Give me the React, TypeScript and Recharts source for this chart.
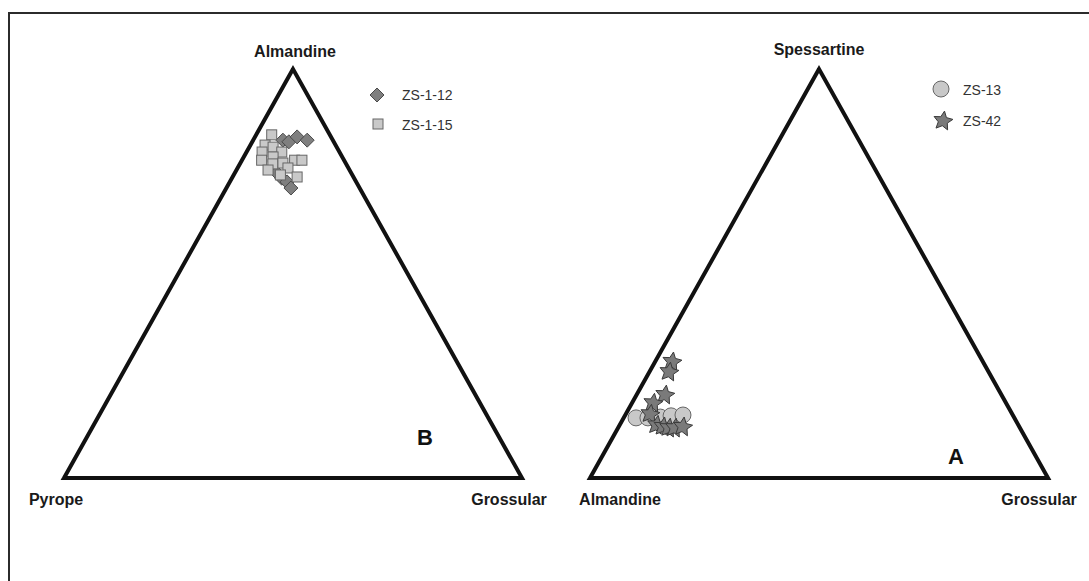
import React from 'react';
import { ScatterChart, Scatter, XAxis, YAxis, ReferenceDot } from 'recharts';

// ternary compositions in %
// panel B: [almandine, pyrope, grossular]
const zs112 = [
  [82.6, 10.9, 6.5], [82.2, 9.8, 8.0], [83.4, 7.4, 9.2], [82.6, 5.6, 11.8],
  [74.6, 16.2, 9.2], [73.3, 15.8, 10.9], [72.4, 15.1, 12.5], [70.9, 15.0, 14.1],
];
const zs115 = [
  [83.9, 12.7, 3.4], [81.4, 15.4, 3.2], [80.9, 13.9, 5.2], [79.7, 12.6, 7.7],
  [79.7, 16.9, 3.4], [77.7, 18.0, 4.3], [78.5, 15.1, 6.4], [76.8, 16.0, 7.2],
  [77.0, 13.7, 9.3], [77.7, 10.8, 11.5], [77.7, 9.2, 13.1], [75.3, 17.8, 6.9],
  [75.8, 13.2, 11.0], [73.6, 12.3, 14.1], [74.1, 15.7, 10.2],
];
// panel A: [spessartine, almandine, grossular]
const zs13 = [
  [14.7, 82.6, 2.7], [14.7, 80.0, 5.3], [14.9, 77.2, 7.9], [15.2, 74.7, 10.1], [15.4, 72.0, 12.6],
];
const zs42 = [
  [28.4, 67.9, 3.7], [25.9, 69.8, 4.3], [20.3, 73.5, 6.2], [18.3, 77.1, 4.6], [15.6, 79.1, 5.3],
  [12.9, 79.0, 8.1], [12.5, 77.8, 9.7], [12.2, 76.7, 11.1], [12.2, 75.4, 12.4], [12.5, 73.5, 14.0],
];

const labelsB = ['Almandine', 'Pyrope', 'Grossular'];
const labelsA = ['Spessartine', 'Almandine', 'Grossular'];

const OFFSET_A = 114.85;
const toXY = (top: number, right: number, offset: number) => ({ x: offset + right + top / 2, y: top });
const pts = (rows: number[][], offset: number) => rows.map((r) => toXY(r[0], r[2], offset));
const outline = (offset: number) =>
  [[100, 0], [0, 0], [0, 100], [100, 0], [0, 0]].map(([t, r]) => toXY(t, r, offset));

const FONT = '"Liberation Sans", Arial, sans-serif';

const Diamond = ({ cx, cy }: any) => (
  <polygon
    points={`${cx},${cy - 7} ${cx + 7},${cy} ${cx},${cy + 7} ${cx - 7},${cy}`}
    fill="#7f7f7f" stroke="#4a4a4a" strokeWidth={1}
  />
);
const Square = ({ cx, cy }: any) => (
  <rect x={cx - 5} y={cy - 5} width={10} height={10} fill="#c9c9c9" stroke="#666" strokeWidth={1} />
);
const Circle = ({ cx, cy }: any) => (
  <circle cx={cx} cy={cy} r={8} fill="#c8c8c8" stroke="#666" strokeWidth={1} />
);
const starPoints = (cx: number, cy: number, ro: number, ri: number) => {
  const p: string[] = [];
  for (let i = 0; i < 10; i++) {
    const a = -Math.PI / 2 + 0.15 + (i * Math.PI) / 5;
    const r = i % 2 === 0 ? ro : ri;
    p.push(`${(cx + r * Math.cos(a)).toFixed(1)},${(cy + r * Math.sin(a)).toFixed(1)}`);
  }
  return p.join(' ');
};
const Star = ({ cx, cy }: any) => (
  <polygon points={starPoints(cx, cy, 10, 4.8)} fill="#7a7a7a" stroke="#3a3a3a" strokeWidth={1} />
);
const None = () => <g />;

const vertexText = (text: string, dx: number, dy: number) => (p: any) => (
  <text x={p.cx + dx} y={p.cy + dy} textAnchor="middle" fontFamily={FONT} fontWeight="bold"
    fontSize={16} fill="#1a1a1a">{text}</text>
);

export default function App() {
  const vB = outline(0);
  const vA = outline(OFFSET_A);
  return (
    <div style={{ position: 'absolute', left: 0, top: 0, width: 1089, height: 581, overflow: 'hidden', background: '#fff' }}>
      <div style={{ position: 'absolute', left: 8, top: 12, width: 1120, height: 620, border: '2px solid #2b2b2b' }} />
      <div style={{ position: 'absolute', left: 0, top: 0 }}>
        <ScatterChart width={1089} height={581} margin={{ top: 69, right: 41, bottom: 103, left: 64 }}>
          <XAxis type="number" dataKey="x" domain={[0, OFFSET_A + 100]} hide />
          <YAxis type="number" dataKey="y" domain={[0, 100]} hide />
          <Scatter data={vB} line={{ stroke: '#111', strokeWidth: 4 }} shape={None} isAnimationActive={false} />
          <Scatter data={vA} line={{ stroke: '#111', strokeWidth: 4 }} shape={None} isAnimationActive={false} />
          <Scatter name="ZS-1-12" data={pts(zs112, 0)} shape={Diamond} isAnimationActive={false} />
          <Scatter name="ZS-1-15" data={pts(zs115, 0)} shape={Square} isAnimationActive={false} />
          <Scatter name="ZS-13" data={pts(zs13, OFFSET_A)} shape={Circle} isAnimationActive={false} />
          <Scatter name="ZS-42" data={pts(zs42, OFFSET_A)} shape={Star} isAnimationActive={false} />
          <ReferenceDot x={vB[0].x} y={vB[0].y} r={0} shape={vertexText(labelsB[0], 2, -12)} />
          <ReferenceDot x={vB[1].x} y={vB[1].y} r={0} shape={vertexText(labelsB[1], -8, 27)} />
          <ReferenceDot x={vB[2].x} y={vB[2].y} r={0} shape={vertexText(labelsB[2], -13, 27)} />
          <ReferenceDot x={vA[0].x} y={vA[0].y} r={0} shape={vertexText(labelsA[0], 0, -14)} />
          <ReferenceDot x={vA[1].x} y={vA[1].y} r={0} shape={vertexText(labelsA[1], 30, 27)} />
          <ReferenceDot x={vA[2].x} y={vA[2].y} r={0} shape={vertexText(labelsA[2], -9, 27)} />
        </ScatterChart>
      </div>
      <svg width={1089} height={581} style={{ position: 'absolute', left: 0, top: 0, pointerEvents: 'none' }}>
        <g fontFamily={FONT} fontSize={14} fill="#333">
          <Diamond cx={377} cy={95} />
          <text x={402} y={100}>ZS-1-12</text>
          <Square cx={378} cy={124} />
          <text x={402} y={130}>ZS-1-15</text>
          <Circle cx={941} cy={89} />
          <text x={963} y={95}>ZS-13</text>
          <Star cx={943} cy={121} />
          <text x={963} y={126}>ZS-42</text>
        </g>
        <text x={425} y={445} textAnchor="middle" fontFamily={FONT} fontWeight="bold" fontSize={22} fill="#111">B</text>
        <text x={956} y={464} textAnchor="middle" fontFamily={FONT} fontWeight="bold" fontSize={22} fill="#111">A</text>
      </svg>
    </div>
  );
}
